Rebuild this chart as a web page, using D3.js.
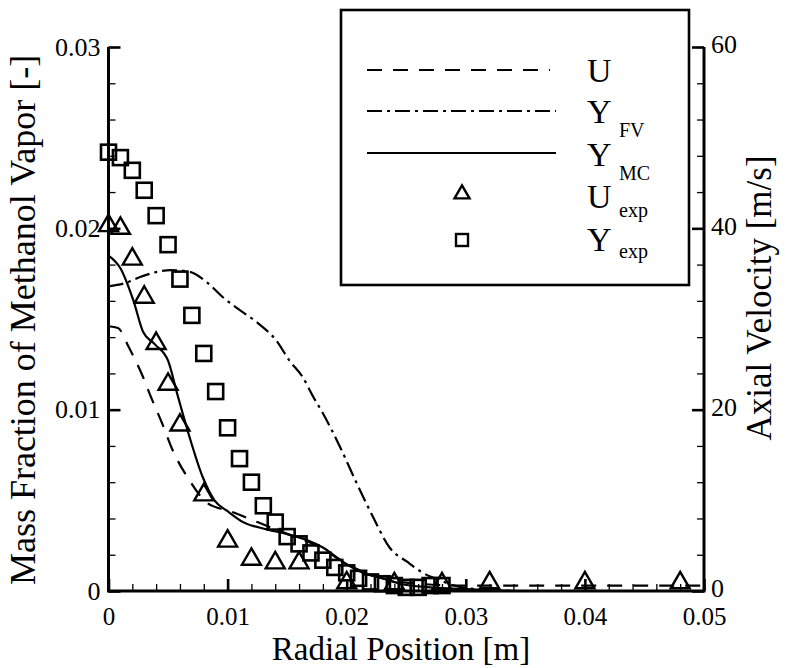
<!DOCTYPE html>
<html>
<head>
<meta charset="utf-8">
<script src="https://cdn.jsdelivr.net/npm/d3@7/dist/d3.min.js"></script>
<style>
  html, body { margin: 0; padding: 0; background: #fff; }
  svg { display: block; font-family: "Liberation Serif", "Times New Roman", serif; }
</style>
</head>
<body>
<svg id="chart" width="786" height="668"></svg>
<script>
// ---- data -------------------------------------------------------------
// Simulated axial velocity U [m/s] (right axis)
const uR   = [0, 0.0008, 0.0017, 0.0029, 0.0035, 0.0045, 0.0054, 0.0068, 0.0083, 0.0102, 0.0125, 0.015, 0.0175, 0.020, 0.022, 0.024, 0.026, 0.030, 0.050];
const uVal = [29.2, 29.0, 26.9, 23.6, 21.6, 18.5, 15.5, 12.2, 9.7, 8.8, 7.6, 6.3, 5.0, 3.0, 1.8, 1.1, 0.8, 0.6, 0.6];

// Methanol vapour mass fraction, finite-volume model (left axis)
const yfvR   = [0, 0.0015, 0.0026, 0.0041, 0.0052, 0.0068, 0.0083, 0.0096, 0.0110, 0.0125, 0.0141, 0.0152, 0.0163, 0.0172, 0.0180, 0.0194, 0.0208, 0.0222, 0.0236, 0.0251, 0.0264, 0.0278, 0.029, 0.031, 0.035, 0.050];
const yfvVal = [0.0168, 0.0170, 0.0173, 0.0176, 0.0177, 0.0176, 0.0170, 0.0162, 0.0155, 0.0148, 0.0138, 0.0127, 0.0118, 0.0107, 0.0098, 0.0080, 0.0060, 0.0041, 0.0024, 0.0016, 0.0010, 0.0006, 0.0003, 0.0001, 0, 0];

// Methanol vapour mass fraction, Monte-Carlo model (left axis)
const ymcR   = [0, 0.001, 0.0021, 0.0029, 0.0039, 0.0050, 0.0058, 0.0068, 0.0079, 0.0089, 0.0100, 0.0113, 0.0133, 0.0152, 0.0167, 0.0180, 0.0197, 0.0214, 0.0230, 0.0245, 0.027, 0.030, 0.035, 0.050];
const ymcVal = [0.0185, 0.0178, 0.0160, 0.0143, 0.0136, 0.0127, 0.0108, 0.0085, 0.0063, 0.0050, 0.0044, 0.0038, 0.0034, 0.0031, 0.0028, 0.0024, 0.0016, 0.0010, 0.0007, 0.0004, 0.0002, 0.0001, 0, 0];

// Measured axial velocity [m/s]
const uExpR   = [0, 0.001, 0.002, 0.003, 0.004, 0.005, 0.006, 0.008, 0.010, 0.012, 0.014, 0.016, 0.020, 0.024, 0.028, 0.032, 0.040, 0.048];
const uExpVal = [40.3, 40.0, 36.6, 32.4, 27.3, 22.8, 18.3, 10.6, 5.5, 3.5, 3.1, 3.1, 0.9, 0.8, 0.8, 0.9, 0.9, 0.9];

// Measured methanol vapour mass fraction
const yExpR   = [0, 0.001, 0.002, 0.003, 0.004, 0.005, 0.006, 0.007, 0.008, 0.009, 0.010, 0.011, 0.012, 0.013, 0.014, 0.015, 0.016, 0.017, 0.018, 0.019, 0.020, 0.021, 0.022, 0.023, 0.024, 0.025, 0.026, 0.027, 0.028];
const yExpVal = [0.0242, 0.0239, 0.0232, 0.0221, 0.0207, 0.0191, 0.0172, 0.0152, 0.0131, 0.0110, 0.0090, 0.0073, 0.0060, 0.0047, 0.0038, 0.0030, 0.0026, 0.0021, 0.0017, 0.0013, 0.0010, 0.0007, 0.0005, 0.0004, 0.0003, 0.0002, 0.0002, 0.0003, 0.0003];

// Tick values and labels
const xTicks  = [0, 0.01, 0.02, 0.03, 0.04, 0.05];
const xTickLabels = ["0", "0.01", "0.02", "0.03", "0.04", "0.05"];
const yTicks  = [0, 0.01, 0.02, 0.03];
const yTickLabels = ["0", "0.01", "0.02", "0.03"];
const y2Ticks = [0, 20, 40, 60];
const y2TickLabels = ["0", "20", "40", "60"];

const xTitle  = "Radial Position [m]";
const yTitle  = "Mass Fraction of Methanol Vapor [-]";
const y2Title = "Axial Velocity [m/s]";

// ---- layout -----------------------------------------------------------
const svg = d3.select("#chart");
const L = 108.5, R = 704, T = 47, B = 591;
const FONT = "Liberation Serif, Times New Roman, serif";

const x  = d3.scaleLinear().domain([0, 0.05]).range([L, R]);
const y  = d3.scaleLinear().domain([0, 0.03]).range([B, T]);
const y2 = d3.scaleLinear().domain([0, 60]).range([B, T]);

const minorX = d3.range(0, 0.0501, 0.002).map(v => +v.toFixed(3));
const minorY = d3.range(0, 0.0301, 0.002).map(v => +v.toFixed(3));
const minorY2 = d3.range(0, 60.1, 4);

function styleAxis(g, major, size) {
  g.selectAll(".domain").remove();
  g.selectAll(".tick line").attr("stroke", "#000").attr("stroke-width", major ? 2.6 : 1.3);
  g.selectAll("text").attr("fill", "#000").style("font-family", FONT).style("font-size", (size || 26) + "px");
}

// minor ticks
svg.append("g").attr("transform", `translate(0,${B})`)
  .call(d3.axisBottom(x).tickValues(minorX).tickSize(-7).tickFormat(""))
  .call(g => styleAxis(g, false));
svg.append("g").attr("transform", `translate(${L},0)`)
  .call(d3.axisLeft(y).tickValues(minorY).tickSize(-7).tickFormat(""))
  .call(g => styleAxis(g, false));
svg.append("g").attr("transform", `translate(${R},0)`)
  .call(d3.axisRight(y2).tickValues(minorY2).tickSize(-7).tickFormat(""))
  .call(g => styleAxis(g, false));

// major ticks with labels
svg.append("g").attr("transform", `translate(0,${B})`)
  .call(d3.axisBottom(x).tickValues(xTicks).tickSize(-12).tickPadding(16)
        .tickFormat((d, i) => xTickLabels[i]))
  .call(g => styleAxis(g, true, 25));
svg.append("g").attr("transform", `translate(${L},0)`)
  .call(d3.axisLeft(y).tickValues(yTicks).tickSize(-12).tickPadding(8)
        .tickFormat((d, i) => yTickLabels[i]))
  .call(g => styleAxis(g, true, 26));
svg.append("g").attr("transform", `translate(${R},0)`)
  .call(d3.axisRight(y2).tickValues(y2Ticks).tickSize(-12).tickPadding(7)
        .tickFormat((d, i) => y2TickLabels[i]))
  .call(g => styleAxis(g, true, 26))
  .call(g => g.selectAll("text").attr("dy", "0.22em"));

// axis lines (open frame: left, bottom, right)
svg.append("path")
  .attr("d", `M${L},${T}V${B}H${R}V${T}`)
  .attr("fill", "none").attr("stroke", "#000").attr("stroke-width", 3)
  .attr("stroke-linejoin", "miter");

// ---- curves -----------------------------------------------------------
const lineL = d3.line().x(d => x(d[0])).y(d => y(d[1])).curve(d3.curveMonotoneX);
const lineR = d3.line().x(d => x(d[0])).y(d => y2(d[1])).curve(d3.curveMonotoneX);

const plot = svg.append("g");
const DASH = "15,11", DASHDOT = "15,5,3,5";

plot.append("path").datum(d3.zip(uR, uVal)).attr("d", lineR)
  .attr("fill", "none").attr("stroke", "#000").attr("stroke-width", 2.2).attr("stroke-dasharray", DASH);
plot.append("path").datum(d3.zip(yfvR, yfvVal)).attr("d", lineL)
  .attr("fill", "none").attr("stroke", "#000").attr("stroke-width", 2.2).attr("stroke-dasharray", DASHDOT);
plot.append("path").datum(d3.zip(ymcR, ymcVal)).attr("d", lineL)
  .attr("fill", "none").attr("stroke", "#000").attr("stroke-width", 2.2);

// ---- markers ----------------------------------------------------------
const triPath = s => {
  const h = s * Math.sqrt(3) / 2;
  return `M0,${-h * 2 / 3}L${s / 2},${h / 3}L${-s / 2},${h / 3}Z`;
};

plot.selectAll(".sq").data(d3.zip(yExpR, yExpVal)).join("rect")
  .attr("x", d => x(d[0]) - 7.5).attr("y", d => y(d[1]) - 7.5)
  .attr("width", 15).attr("height", 15)
  .attr("fill", "none").attr("stroke", "#000").attr("stroke-width", 2.6);

plot.selectAll(".tri").data(d3.zip(uExpR, uExpVal)).join("path")
  .attr("transform", d => `translate(${x(d[0])},${y2(d[1])})`)
  .attr("d", triPath(19))
  .attr("fill", "none").attr("stroke", "#000").attr("stroke-width", 2.4)
  .attr("stroke-linejoin", "miter");

// ---- legend -----------------------------------------------------------
const leg = svg.append("g");
leg.append("rect").attr("x", 341).attr("y", 10).attr("width", 348).attr("height", 275)
  .attr("fill", "#fff").attr("stroke", "#000").attr("stroke-width", 2.6);

const lx0 = 367, lx1 = 556, ltx = 587;
leg.append("line").attr("x1", lx0).attr("x2", lx1 - 6).attr("y1", 70).attr("y2", 70)
  .attr("stroke", "#000").attr("stroke-width", 2.2).attr("stroke-dasharray", DASH);
leg.append("line").attr("x1", lx0).attr("x2", lx1).attr("y1", 111).attr("y2", 111)
  .attr("stroke", "#000").attr("stroke-width", 2.2).attr("stroke-dasharray", DASHDOT);
leg.append("line").attr("x1", lx0).attr("x2", lx1).attr("y1", 153).attr("y2", 153)
  .attr("stroke", "#000").attr("stroke-width", 2.2);
leg.append("path").attr("transform", "translate(462,194)").attr("d", triPath(15))
  .attr("fill", "none").attr("stroke", "#000").attr("stroke-width", 2.4);
leg.append("rect").attr("x", 456).attr("y", 234).attr("width", 12).attr("height", 12)
  .attr("fill", "none").attr("stroke", "#000").attr("stroke-width", 2.4);

const legendItems = [
  { main: "U", sub: null, base: 82 },
  { main: "Y", sub: "FV", base: 123, subBase: 137 },
  { main: "Y", sub: "MC", base: 166, subBase: 180 },
  { main: "U", sub: "exp", base: 208, subBase: 217 },
  { main: "Y", sub: "exp", base: 251, subBase: 258 }
];
legendItems.forEach(it => {
  leg.append("text").attr("x", ltx).attr("y", it.base).text(it.main)
    .style("font-family", FONT).style("font-size", "34px");
  if (it.sub) {
    leg.append("text").attr("x", ltx + 32).attr("y", it.subBase).text(it.sub)
      .style("font-family", FONT).style("font-size", "20px");
  }
});

// ---- axis titles ------------------------------------------------------
svg.append("text").attr("x", 401).attr("y", 660).attr("text-anchor", "middle")
  .style("font-family", FONT).style("font-size", "33px").text(xTitle);
svg.append("text").attr("transform", "translate(35,320) rotate(-90)").attr("text-anchor", "middle")
  .style("font-family", FONT).style("font-size", "36px").text(yTitle);
svg.append("text").attr("transform", "translate(771,298) rotate(-90)").attr("text-anchor", "middle")
  .style("font-family", FONT).style("font-size", "35px").text(y2Title);
</script>
</body>
</html>
